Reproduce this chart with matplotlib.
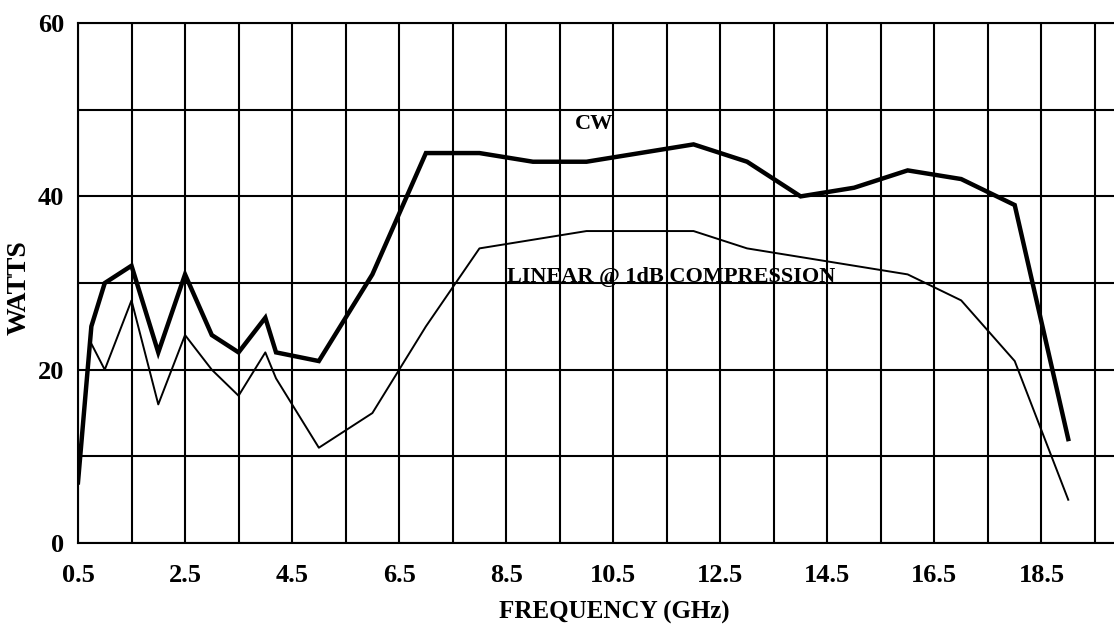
import matplotlib
matplotlib.use("Agg")
import matplotlib.pyplot as plt
from matplotlib.ticker import FixedLocator, MultipleLocator

# values
cw_freq = [0.5, 0.75, 1.0, 1.5, 2.0, 2.5, 3.0, 3.5, 4.0, 4.2, 5.0, 6.0, 7.0,
           8.0, 9.0, 10.0, 11.0, 12.0, 13.0, 14.0, 15.0, 16.0, 17.0, 18.0, 19.0]
cw_watts = [7, 25, 30, 32, 22, 31, 24, 22, 26, 22, 21, 31, 45,
            45, 44, 44, 45, 46, 44, 40, 41, 43, 42, 39, 12]

lin_freq = [0.75, 1.0, 1.5, 2.0, 2.5, 3.0, 3.5, 4.0, 4.2, 5.0, 6.0, 7.0,
            8.0, 9.0, 10.0, 12.0, 13.0, 14.0, 15.0, 16.0, 17.0, 18.0, 19.0]
lin_watts = [23, 20, 28, 16, 24, 20, 17, 22, 19, 11, 15, 25,
             34, 35, 36, 36, 34, 33, 32, 31, 28, 21, 5]

x_ticks = [0.5, 2.5, 4.5, 6.5, 8.5, 10.5, 12.5, 14.5, 16.5, 18.5]
x_grid = [0.5 + i for i in range(21)]
y_ticks = [0, 20, 40, 60]

plt.rcParams['font.family'] = ['Liberation Serif', 'DejaVu Serif']
plt.rcParams['font.weight'] = 'bold'

fig = plt.figure(figsize=(11.14, 6.3), dpi=100)
# the plot area runs past the right edge of the picture, as in the original
ax = fig.add_axes([0.070, 0.138, 0.961, 0.8254])

ax.plot(cw_freq, cw_watts, color='black', lw=3.2, solid_joinstyle='miter', zorder=3)
ax.plot(lin_freq, lin_watts, color='black', lw=1.4, zorder=3)

ax.set_xlim(0.5, 20.5)
ax.set_ylim(0, 60)
ax.set_xticks(x_ticks)
ax.set_yticks(y_ticks)
ax.xaxis.set_minor_locator(FixedLocator(x_grid))
ax.yaxis.set_minor_locator(MultipleLocator(10))
ax.grid(which='both', color='black', lw=1.5)
ax.set_axisbelow(True)
ax.tick_params(which='both', length=0, labelsize=19)
ax.tick_params(axis='x', pad=15)
ax.tick_params(axis='y', pad=10)
for s in ax.spines.values():
    s.set_linewidth(1.5)

ax.set_xlabel('FREQUENCY (GHz)', fontsize=18, fontweight='bold')
ax.set_ylabel('WATTS', fontsize=20, fontweight='bold')
# center the x label on the visible part of the picture
ax.xaxis.set_label_coords((614 - 78) / 1070.6, -0.112)
ax.yaxis.set_label_coords(-0.043, (543 - 288) / 520)

ax.text(10.15, 48.4, 'CW', fontsize=16, fontweight='bold', ha='center', va='center')
ax.text(11.58, 30.7, 'LINEAR @ 1dB COMPRESSION', fontsize=16, fontweight='bold',
        ha='center', va='center')

fig.savefig('out.png', dpi=100)
